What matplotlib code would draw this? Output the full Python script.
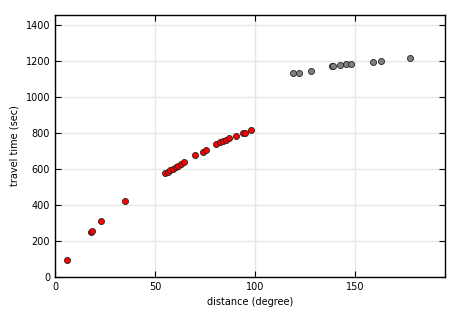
import matplotlib
matplotlib.use('Agg')
import matplotlib.pyplot as plt

# P arrivals (red)
p_dist = [6, 18, 18.5, 23, 35, 55, 56.3, 57.6, 59, 60.3, 61.5, 62.8, 64.5,
          70, 74.2, 75.3, 80.5, 82.5, 84, 85.5, 87, 90.5, 94, 95, 97.8]
p_time = [95, 250, 255, 310, 420, 575, 583, 593, 602, 611, 619, 628, 640,
          678, 696, 706, 739, 748, 755, 763, 770, 785, 798, 802, 817]

# Diffracted / late arrivals (gray)
g_dist = [118.8, 122, 128, 138.5, 139, 142.7, 145.5, 148, 159, 163, 177.5]
g_time = [1132, 1132, 1146, 1170, 1172, 1178, 1181, 1181, 1196, 1202, 1215]

fig = plt.figure(figsize=(4.65, 3.15), dpi=100)
ax = fig.add_axes([55/465, 1 - 277/315, 390/465, 262/315])

ax.grid(True, color='#e6e6e6', linewidth=1.0)
ax.set_axisbelow(True)
ax.scatter(p_dist, p_time, s=19, c='red', edgecolors='#222222', linewidths=0.6, zorder=3)
ax.scatter(g_dist, g_time, s=19, c='gray', edgecolors='#222222', linewidths=0.6, zorder=3)

ax.set_xlim(0, 195)
ax.set_ylim(0, 1455)
ax.set_xticks([0, 50, 100, 150])
ax.set_yticks(range(0, 1401, 200))
ax.tick_params(direction='in', top=True, right=True, labelsize=7, length=4, width=0.8)
for s in ax.spines.values():
    s.set_linewidth(1.0)

ax.set_xlabel('distance (degree)', fontsize=7)
ax.set_ylabel('travel time (sec)', fontsize=7)

fig.savefig('out.png', dpi=100)
